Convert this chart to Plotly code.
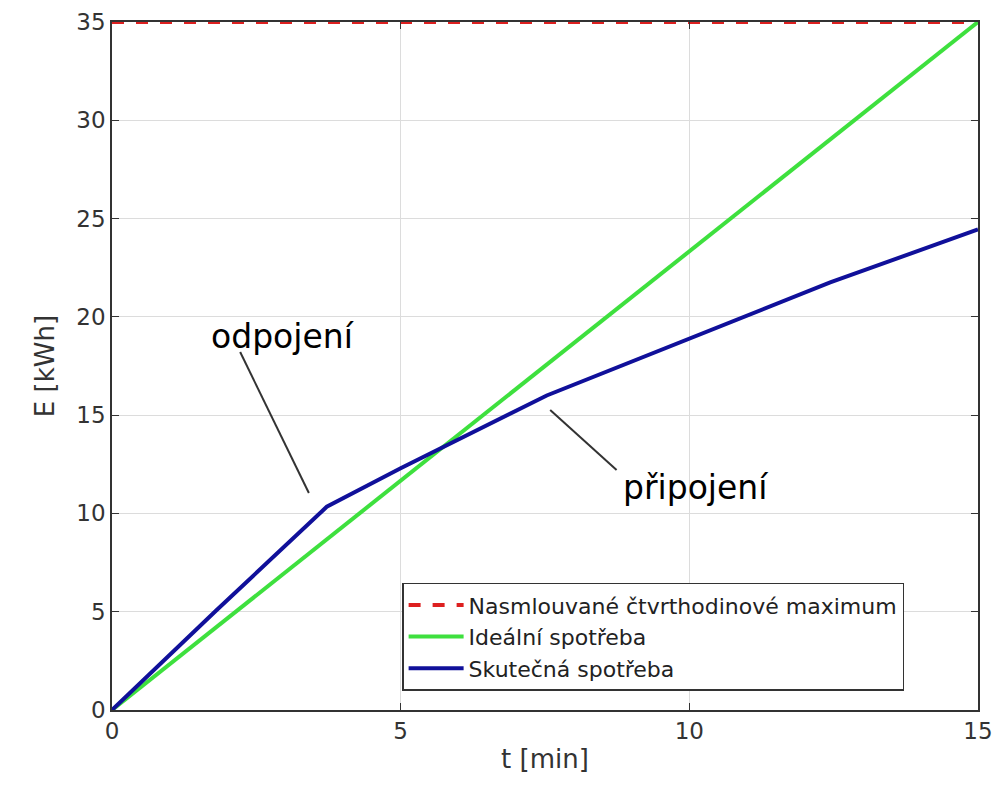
import plotly.graph_objects as go

# Data
t_ideal = [0, 15]
e_ideal = [0, 35]
t_max = [0, 15]
e_max = [35, 35]
t_real = [0, 1.8, 3.72, 5.0, 7.53, 10.0, 12.44, 15.0]
e_real = [0, 5.05, 10.34, 12.3, 16.0, 18.9, 21.75, 24.45]

x_ticks = [0, 5, 10, 15]
y_ticks = [0, 5, 10, 15, 20, 25, 30, 35]

FONT = "DejaVu Sans"

fig = go.Figure()
fig.add_trace(go.Scatter(x=t_max, y=e_max, mode="lines",
                         name="Nasmlouvané čtvrthodinové maximum",
                         line=dict(color="#dd2020", width=4, dash="dash"),
                         cliponaxis=False))
fig.add_trace(go.Scatter(x=t_ideal, y=e_ideal, mode="lines",
                         name="Ideální spotřeba",
                         line=dict(color="#3ee03e", width=4)))
fig.add_trace(go.Scatter(x=t_real, y=e_real, mode="lines",
                         name="Skutečná spotřeba",
                         line=dict(color="#10109a", width=4)))

# annotation pointer lines
fig.add_shape(type="line", x0=2.22, y0=18.21, x1=3.41, y1=11.04,
              line=dict(color="#333333", width=2))
fig.add_shape(type="line", x0=7.59, y0=15.26, x1=8.74, y1=12.21,
              line=dict(color="#333333", width=2))

fig.add_annotation(x=2.96, y=19.0, text="odpojení", showarrow=False,
                   font=dict(family=FONT, size=33, color="black"))
fig.add_annotation(x=10.12, y=11.3, text="připojení", showarrow=False,
                   font=dict(family=FONT, size=33, color="black"))

fig.update_layout(
    width=998, height=789,
    margin=dict(l=112, r=20, t=22, b=79),
    paper_bgcolor="white", plot_bgcolor="white",
    font=dict(family=FONT, size=22, color="#333333"),
    showlegend=True,
    legend=dict(x=0.335, y=0.185, xanchor="left", yanchor="top",
                bgcolor="white", bordercolor="#333333", borderwidth=1.5,
                font=dict(family=FONT, size=22, color="#222222"),
                tracegroupgap=0, itemwidth=55),
)
fig.update_xaxes(range=[0, 15], tickvals=x_ticks, ticks="inside", ticklen=7,
                 tickcolor="#333333", showline=True, linecolor="#333333",
                 linewidth=1.5, mirror="ticks", showgrid=True,
                 gridcolor="#dcdcdc", gridwidth=1, zeroline=False,
                 automargin=False,
                 title=dict(text="t [min]", standoff=6,
                            font=dict(family=FONT, size=26, color="#333333")),
                 tickfont=dict(family=FONT, size=23, color="#333333"))
fig.update_yaxes(range=[0, 35], tickvals=y_ticks, ticks="inside", ticklen=7,
                 tickcolor="#333333", showline=True, linecolor="#333333",
                 linewidth=1.5, mirror="ticks", showgrid=True,
                 gridcolor="#dcdcdc", gridwidth=1, zeroline=False,
                 automargin=False,
                 title=dict(text="E [kWh]", standoff=14,
                            font=dict(family=FONT, size=26, color="#333333")),
                 tickfont=dict(family=FONT, size=23, color="#333333"))

fig.write_html("out.html")
